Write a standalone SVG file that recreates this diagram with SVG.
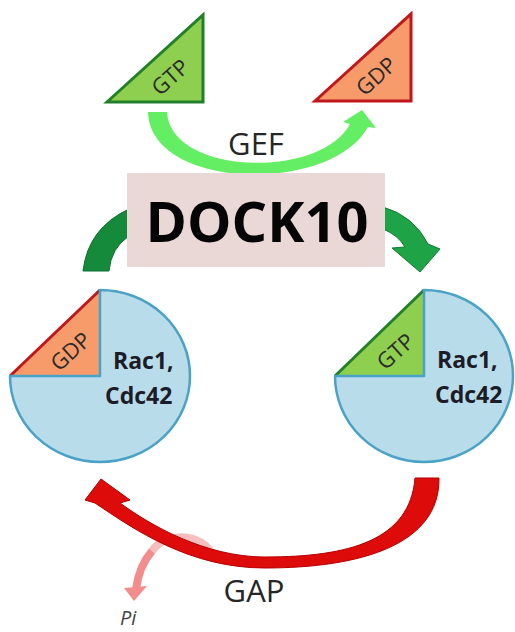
<svg xmlns="http://www.w3.org/2000/svg" width="515" height="632" viewBox="0 0 515 632">
<style>
.tri-gtp{fill:#8fcf50;stroke:#22802a;stroke-width:3;stroke-linejoin:miter}
.tri-gdp{fill:#f79b6b;stroke:#c0171c;stroke-width:3;stroke-linejoin:miter}
.pie{fill:#b9dcea;stroke:#4aa3c6;stroke-width:2.5;stroke-linejoin:round}
.nuc{font-family:"Open Sans","DejaVu Sans",sans-serif;font-size:22px;fill:#2b2b2b;text-anchor:middle}
.lbl{font-family:"Open Sans","DejaVu Sans",sans-serif;fill:#262626;text-anchor:middle}
.prot{font-family:"Open Sans","DejaVu Sans",sans-serif;font-weight:bold;font-size:23px;fill:#1c1c28}
</style>
<rect width="515" height="632" fill="#ffffff"/>

<g id="gtp-top">
<polygon class="tri-gtp" points="107,102 203,15 203,102"/>
<text class="nuc" transform="translate(170,77) rotate(-42)" y="8">GTP</text>
</g>
<g id="gdp-top">
<polygon class="tri-gdp" points="315,101 411,14 411,101"/>
<text class="nuc" transform="translate(376,76) rotate(-42)" y="8">GDP</text>
</g>

<g id="connectors">
<path id="gef-arrow" d="M148,112 L167,112 C170,175 320,180 350,124 L343,122 L362,110 L376,128 L368,127 C330,195 150,190 148,112 Z" fill="#63ee63"/>
<path id="dock-left-arrow" d="M83,271 Q88,228 129,209 L129,236 Q111,248 109,271 Z" fill="#148a3a" stroke="#0e6e2c" stroke-width="1"/>
<path id="dock-right-arrow" d="M383,207 Q414,216 428,244 L440,249 L420,272 L392,248 L405,247 Q398,235 383,229 Z" fill="#1ea346" stroke="#137a32" stroke-width="1"/>
<path id="pi-arc" d="M212,556 C206,534 166,530 152,551" fill="none" stroke="#f4a2a2" stroke-width="8" opacity="0.7"/>
<path id="gap-arrow" d="M415,478 L439,478 C440,545 360,568 265,568 C190,568 135,530 95,503 L85,500 L101,479 L130,500 L120,503 C150,525 205,557 265,557 C350,557 410,540 415,478 Z" fill="#de0b0b" stroke="#b30000" stroke-width="1"/>
<path id="pi-arrow" d="M152,551 Q139,566 136,589" fill="none" stroke="#f38c8c" stroke-width="8"/>
<polygon points="124,588 147,586 134,601" fill="#f38c8c"/>
</g>

<g id="gef-label"><text class="lbl" x="256" y="155" font-size="31">GEF</text></g>

<g id="dock10">
<rect x="127" y="173" width="258" height="94" fill="#ead8d7"/>
<text x="257" y="242" font-family="'Open Sans','DejaVu Sans',sans-serif" font-weight="bold" font-size="56" fill="#050505" text-anchor="middle">DOCK10</text>
</g>

<g id="rac-gdp">
<polygon points="10,376 100,290 100,376" fill="#f79b6b"/>
<line x1="10" y1="376" x2="100" y2="290" stroke="#c0171c" stroke-width="3"/>
<path class="pie" d="M100,376 L10,376 A90,86 0 1 0 100,290 Z"/>
<text class="nuc" font-size="21" transform="translate(71,352) rotate(-42)" y="7">GDP</text>
<text class="prot" x="113" y="369">Rac1,</text>
<text class="prot" x="105" y="404">Cdc42</text>
</g>

<g id="rac-gtp">
<polygon points="335,376 424,290 424,376" fill="#8fcf50"/>
<line x1="335" y1="376" x2="424" y2="290" stroke="#22802a" stroke-width="3"/>
<path class="pie" d="M424,376 L335,376 A89,86 0 1 0 424,290 Z"/>
<text class="nuc" font-size="21" transform="translate(396,352) rotate(-42)" y="7">GTP</text>
<text class="prot" x="437" y="368">Rac1,</text>
<text class="prot" x="435" y="403">Cdc42</text>
</g>

<g id="gap-label"><text class="lbl" x="254" y="602" font-size="31">GAP</text></g>
<g id="pi-label"><text x="120" y="625" font-family="'Open Sans','DejaVu Sans',sans-serif" font-style="italic" font-size="20" fill="#444">Pi</text></g>
</svg>
